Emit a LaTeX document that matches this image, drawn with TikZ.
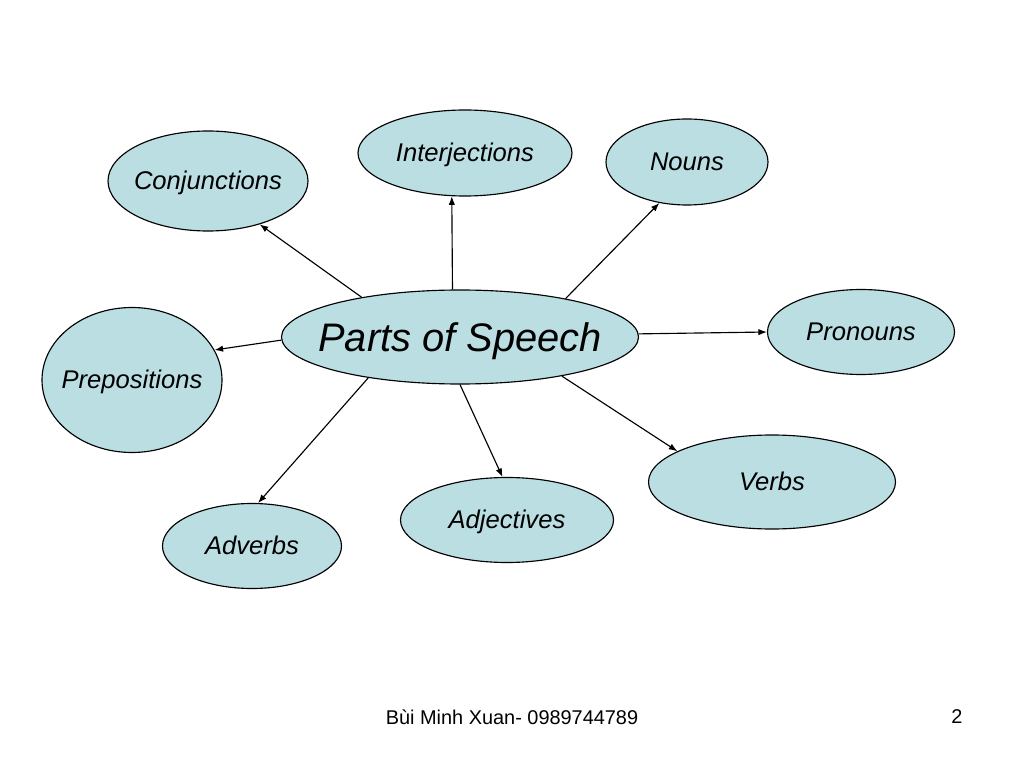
\documentclass[tikz,border=0pt]{standalone}
\usepackage{fontspec}
\setmainfont{Liberation Sans}
\usetikzlibrary{shapes.geometric,arrows.meta}
\definecolor{ellfill}{RGB}{186,222,226}
\newcommand{\nw}[1]{\makebox[0pt]{#1}}
\tikzset{
  oval/.style={ellipse, draw=black, line width=0.8pt, fill=ellfill, inner sep=0pt,
    font=\fontsize{18}{21}\selectfont\itshape, text height=11.5pt, text depth=0pt},
  sz/.style 2 args={minimum width=#1*0.703125pt, minimum height=#2*0.703125pt},
  conn/.style={draw=black, line width=0.8pt, -{Latex[length=6pt,width=4.5pt]}},
}
\begin{document}
\begin{tikzpicture}[x=0.703125pt, y=-0.703125pt]
\useasboundingbox[fill=white] (0,0) rectangle (1024,768);
\node[oval, sz={200}{100}] (conj) at (208,181) {\nw{Conjunctions}};
\node[oval, sz={214}{86}] (inter) at (465,153) {\nw{Interjections}};
\node[oval, sz={162}{86}] (nouns) at (687,162) {\nw{Nouns}};
\node[oval, sz={357}{94}, font=\fontsize{28}{33}\selectfont\itshape, text height=21pt] (ps) at (460,337) {\nw{Parts of Speech}};
\node[oval, sz={187}{85}] (pron) at (861,332) {\nw{Pronouns}};
\node[oval, sz={180}{145}] (prep) at (132,380) {\nw{Prepositions}};
\node[oval, sz={247}{94}] (verbs) at (772,482) {\nw{Verbs}};
\node[oval, sz={213}{85}] (adj) at (507,520) {\nw{Adjectives}};
\node[oval, sz={179}{85}] (adv) at (252,546) {\nw{Adverbs}};
\draw[conn] (ps.158.6) -- (conj.320.6);
\draw[conn] (ps.99.7) -- (inter.253);
\draw[conn] (ps.20.7) -- (nouns.236.7);
\draw[conn] (ps.1.6) -- (pron.180);
\draw[conn] (ps.181.6) -- (prep.20.1);
\draw[conn] (ps.204.4) -- (adv.82);
\draw[conn] (ps.270) -- (adj.96.8);
\draw[conn] (ps.339.3) -- (verbs.162.6);
\node[font=\fontsize{14}{17}\selectfont] (foot) at (512,717) {Bùi Minh Xuan- 0989744789};
\node[font=\fontsize{14}{17}\selectfont] (page) at (957,717) {2};
\end{tikzpicture}
\end{document}
